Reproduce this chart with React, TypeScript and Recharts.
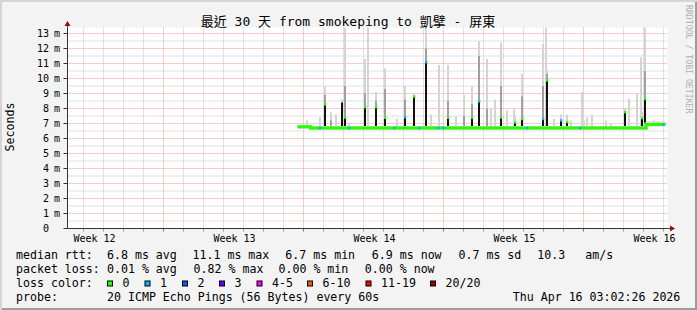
import React from 'react';
import {
  ComposedChart, XAxis, YAxis, CartesianGrid, Bar, Line, Scatter, ReferenceDot, ReferenceLine,
} from 'recharts';

const MONO = "'DejaVu Sans Mono', 'Noto Sans CJK TC', monospace";

// ---------- text ----------
const titleText = '最近 30 天 from smokeping to 凱擘 - 屏東';
const yAxisTitle = 'Seconds';
const sideText = 'RRDTOOL / TOBI OETIKER';

// ---------- axes (days from left edge of the 30-day window, ms) ----------
const yLabelValues = [0, 1, 2, 3, 4, 5, 6, 7, 8, 9, 10, 11, 12, 13];
const yMinorValues = [0.5, 1.5, 2.5, 3.5, 4.5, 5.5, 6.5, 7.5, 8.5, 9.5, 10.5, 11.5, 12.5];
const yMajorValues = [1, 2, 3, 4, 5, 6, 7, 8, 9, 10, 11, 12, 13];
const dayLines = [0.8, 1.8, 2.8, 3.8, 5.8, 6.8, 7.8, 8.8, 9.8, 10.8, 12.8, 13.8, 14.8, 15.8, 16.8, 17.8,
  19.8, 20.8, 21.8, 22.8, 23.8, 24.8, 26.8, 27.8, 28.8, 29.8];
const weekLines = [4.8, 11.8, 18.8, 25.8];
const weekLabelDays = [1.35, 8.35, 15.35, 22.35, 29.35];
const weekLabels = ['Week 12', 'Week 13', 'Week 14', 'Week 15', 'Week 16'];

// ---------- median baseline ----------
const baseDays = [11.5, 12.15, 12.15, 28.93, 28.93, 29.9];
const baseMs = [6.78, 6.78, 6.7, 6.7, 6.93, 6.93];
const raisedSmokeDays = [28.93, 29.9];
const raisedSmokeMs = [7.03, 7.03];

// ---------- events: spikes / smoke / loss-coloured samples ----------
const evDays = [12.6, 12.85, 13.15, 13.7, 13.85, 14.1, 14.85, 15.0, 15.4, 15.87, 16.3, 16.9, 17.3, 17.55,
  17.93, 18.5, 18.55, 18.75, 19.0, 19.8, 20.2, 20.55, 20.98, 21.15, 21.7, 21.98, 22.3, 22.4, 22.73, 22.98,
  23.78, 23.9, 23.98, 24.68, 24.95, 25.15, 25.6, 25.73, 25.8, 25.98, 26.23, 27.15, 27.85, 28.07, 28.48,
  28.65, 28.7, 28.87, 29.75,
  11.95, 13.4, 16.45, 18.15, 19.4, 21.35, 24.3, 26.9, 29.3];
const evPeak = [6.7, 8.27, null, 8.4, 7.4, 6.7, 8.09, null, 8.09, 7.38, 6.7, 7.42, 8.8, 6.7,
  11.09, 6.7, null, 6.7, 7.38, null, 7.38, 8.47, null, null, 7.4, null, null, 7.07, 7.3, 6.7,
  7.3, null, 9.87, 7.2, 7.1, null, 6.7, null, null, null, null, null, 7.76, null, null,
  null, 7.36, 8.64, 6.93,
  null, null, null, null, null, null, null, null, null];
const evLoss = [1, 0, null, null, 0, 1, 0, null, 0, 0, 1, 1, 0, 1,
  1, 1, null, 1, 0, null, 0, 1, null, null, 0, null, null, 0, 0, 1,
  1, null, 0, 1, 0, null, 1, null, null, null, null, null, 0, null, null,
  null, 0, 0, 1,
  null, null, null, null, null, null, null, null, null];
const evSmokeHi = [7.4, 9.47, 7.75, 8.6, 13.4, 7.0, 11.3, 13.4, 9.1, 10.67, null, 9.5, 9.0, null,
  13.4, null, 10.9, null, 10.9, 8.9, 9.5, 12.5, 11.3, 8.0, 12.4, 7.87, 8.0, 7.5, 10.3, null,
  12.3, 13.4, 10.6, 7.6, 7.6, 7.2, null, 9.1, 7.2, 7.4, 7.6, 7.0, 8.0, 8.67, 9.0,
  11.4, 7.8, 13.4, null,
  7.2, 7.6, 7.3, 7.6, 7.5, 8.6, 7.3, 7.2, 7.2];
const evSmokeMid = [null, 8.9, 7.2, null, 9.5, null, 9.0, null, 8.5, 9.3, null, 8.6, null, null,
  12.0, null, null, null, 8.5, 7.5, 8.3, 11.5, 8.0, null, 9.5, null, null, null, 8.8, null,
  9.5, null, 10.3, null, null, null, null, null, null, null, null, null, null, null, null,
  null, null, 10.5, null,
  null, null, null, null, null, null, null, null, null];

// ---------- legend ----------
const lossLabels = ['0', '1', '2', '3', '4-5', '6-10', '11-19', '20/20'];
const lossColors = ['#26ff00', '#00b8ff', '#0059ff', '#5e00ff', '#ff00ff', '#ff5500', '#ff0000', '#a00000'];
const rttValues = ['6.8', '11.1', '6.7', '6.9', '0.7'];
const rttNames = ['avg', 'max', 'min', 'now', 'sd'];
const rttAm = '10.3';
const lossValues = ['0.01', '0.82', '0.00', '0.00'];
const lossNames = ['avg', 'max', 'min', 'now'];
const probeText = '20 ICMP Echo Pings (56 Bytes) every 60s';
const dateText = 'Thu Apr 16 03:02:26 2026';

// ---------- derived tables ----------
const baselineAt = (t: number) => {
  let v = baseMs[0];
  for (let j = 0; j < baseDays.length; j++) if (baseDays[j] <= t) v = baseMs[j];
  return v;
};

const rows = evDays
  .map((t, i) => {
    const base = baselineAt(t);
    const hi = evSmokeHi[i];
    const mid = evSmokeMid[i];
    const pk = evPeak[i];
    return {
      t,
      light: hi != null ? [base - 0.05, hi] : null,
      mid: mid != null ? [base - 0.05, mid] : null,
      med: pk != null && pk > base + 0.05 ? [base, pk] : null,
    };
  })
  .sort((a, b) => a.t - b.t);

const dots = evDays
  .map((t, i) => ({ t, v: evPeak[i] != null ? evPeak[i] : baselineAt(t), loss: evLoss[i] }))
  .filter((d) => d.loss != null)
  .map((d) => ({ t: d.t, v: d.v, c: lossColors[d.loss as number] }));

const baseLine = baseDays.map((t, i) => ({ t, v: baseMs[i] }));
const raisedSmoke = raisedSmokeDays.map((t, i) => ({ t, v: raisedSmokeMs[i] }));

// ---------- renderers ----------
const YTick = (props: any) => {
  const { x, y, payload } = props;
  const v = payload.value;
  return (
    <g>
      <text x={x - 12.5} y={y} dy={3.6} textAnchor="end" fontFamily={MONO} fontSize={10} fill="#000">{v}</text>
      {v !== 0 && (
        <text x={x - 7.5} y={y} dy={3.6} textAnchor="start" fontFamily={MONO} fontSize={10} fill="#000">m</text>
      )}
    </g>
  );
};

const WeekTick = (props: any) => {
  const { x, y, payload } = props;
  const idx = weekLabelDays.indexOf(payload.value);
  return (
    <text x={x} y={y} dy={13.3} textAnchor="middle" fontFamily={MONO} fontSize={10} fill="#000">
      {weekLabels[idx]}
    </text>
  );
};

const makeBarShape = (w: number, fill: string) => (props: any) => {
  const { x, y, width, height } = props;
  if (![x, y, width, height].every((n) => typeof n === 'number' && isFinite(n)) || height === 0) return <g />;
  const cx = x + width / 2;
  const top = Math.min(y, y + height);
  return <rect x={Math.round(cx) - w / 2} y={top} width={w} height={Math.abs(height)} fill={fill} />;
};
const lightShape = makeBarShape(2, '#d4d4d4');
const midShape = makeBarShape(2, '#a0a0a0');
const medShape = makeBarShape(2, '#111111');

const DotShape = (props: any) => {
  const { cx, cy, payload } = props;
  return <rect x={Math.round(cx) - 1} y={cy - 1.2} width={2.4} height={2.4} fill={payload.c} />;
};

const YArrow = (props: any) => {
  const { cx, cy } = props;
  return (
    <g>
      <line x1={cx} y1={cy} x2={cx} y2={cy - 2} stroke="#404040" strokeWidth={1} />
      <polygon points={`${cx},${cy - 6.5} ${cx - 3},${cy - 1.5} ${cx + 3},${cy - 1.5}`} fill="#8b1010" />
    </g>
  );
};

const XArrow = (props: any) => {
  const { cx, cy } = props;
  return (
    <g>
      <line x1={cx} y1={cy} x2={cx + 2.5} y2={cy} stroke="#404040" strokeWidth={1} />
      <polygon points={`${cx + 7.5},${cy} ${cx + 2.5},${cy - 3} ${cx + 2.5},${cy + 3}`} fill="#8b1010" />
    </g>
  );
};

const numAxis = { type: 'number' as const, dataKey: 't', domain: [0, 30] as [number, number], allowDataOverflow: true };
const refAxes = { xAxisId: 'xlab', yAxisId: 'main' };

const txt = { fontFamily: MONO, fontSize: 11.6, fill: '#000' } as const;

export default function App() {
  const rowY = [259, 273, 287.3, 300.6];
  const rttX = [107, 192.5, 285.3, 371.8, 458.5];
  const lossX = [107, 193.6, 278.5, 364.8];
  const boxX = [107.5, 145, 182.5, 219.5, 257, 307.5, 366, 430.5];
  return (
    <div
      style={{
        position: 'absolute', left: 0, top: 0, width: 697, height: 310, overflow: 'hidden',
        background: '#f3f3f3', boxShadow: 'inset 2px 2px 0 #d4d4d4, inset -2px -2px 0 #9c9c9c',
      }}
    >
      <ComposedChart width={697} height={310} data={rows} margin={{ top: 27.5, right: 29.5, bottom: 61.5, left: 0 }}>
        <XAxis xAxisId="xlab" {...numAxis} ticks={weekLabelDays} height={20} tick={<WeekTick />}
          tickLine={false} tickSize={0} tickMargin={0} axisLine={{ stroke: '#333' }} interval={0} />
        <XAxis xAxisId="s1" {...numAxis} orientation="top" height={0} hide />
        <XAxis xAxisId="s2" {...numAxis} orientation="top" height={0} hide />
        <XAxis xAxisId="s3" {...numAxis} orientation="top" height={0} hide />
        <YAxis yAxisId="main" type="number" domain={[0, 13.4]} allowDataOverflow ticks={yLabelValues} width={67.5}
          tick={<YTick />} tickSize={4} tickMargin={2} tickLine={{ stroke: '#333' }} axisLine={{ stroke: '#333' }}
          interval={0} />

        <CartesianGrid xAxisId="xlab" yAxisId="main" fill="#ffffff" horizontal={false} vertical={false} />

        {yMinorValues.map((v) => (
          <ReferenceLine key={'ym' + v} {...refAxes} y={v} stroke="#c4c4c4" strokeDasharray="1 1" zIndex={-90} />
        ))}
        {dayLines.map((v) => (
          <ReferenceLine key={'xm' + v} {...refAxes} x={v} stroke="#c4c4c4" strokeDasharray="1 1" zIndex={-90} />
        ))}
        {yMajorValues.map((v) => (
          <ReferenceLine key={'yM' + v} {...refAxes} y={v} stroke="#eb9a9a" strokeDasharray="1 1" zIndex={-80} />
        ))}
        {weekLines.map((v) => (
          <ReferenceLine key={'xM' + v} {...refAxes} x={v} stroke="#eb9a9a" strokeDasharray="1 1" zIndex={-80} />
        ))}
        {dayLines.map((v) => (
          <ReferenceLine key={'tm' + v} {...refAxes} ifOverflow="visible" stroke="#9a9a9a"
            segment={[{ x: v, y: 0 }, { x: v, y: -0.2 }]} />
        ))}
        {weekLines.map((v) => (
          <ReferenceLine key={'tM' + v} {...refAxes} ifOverflow="visible" stroke="#d05050"
            segment={[{ x: v, y: 0 }, { x: v, y: -0.2 }]} />
        ))}

        <Bar xAxisId="s1" yAxisId="main" dataKey="light" shape={lightShape} isAnimationActive={false} />
        <Bar xAxisId="s2" yAxisId="main" dataKey="mid" shape={midShape} isAnimationActive={false} />
        <Bar xAxisId="s3" yAxisId="main" dataKey="med" shape={medShape} isAnimationActive={false} />

        <Line xAxisId="xlab" yAxisId="main" data={raisedSmoke} dataKey="v" stroke="#d4d4d4" strokeWidth={3}
          dot={false} isAnimationActive={false} />
        <Line xAxisId="xlab" yAxisId="main" data={baseLine} dataKey="v" stroke="#d6d6d6" strokeWidth={4}
          dot={false} isAnimationActive={false} />
        <Line xAxisId="xlab" yAxisId="main" data={baseLine} dataKey="v" stroke="#26ff00" strokeWidth={3}
          dot={false} isAnimationActive={false} />
        <Scatter xAxisId="xlab" yAxisId="main" data={dots} dataKey="v" shape={<DotShape />} isAnimationActive={false} />

        <ReferenceDot {...refAxes} x={0} y={13.4} ifOverflow="visible" shape={<YArrow />} />
        <ReferenceDot {...refAxes} x={30} y={0} ifOverflow="visible" shape={<XArrow />} />
      </ComposedChart>

      <svg width={697} height={310} style={{ position: 'absolute', left: 0, top: 0, pointerEvents: 'none' }}>
        <text x={348} y={26} textAnchor="middle" fontFamily={MONO} fontSize={13} fill="#000">{titleText}</text>
        <text transform="translate(14,127) rotate(-90)" textAnchor="middle" {...txt}>{yAxisTitle}</text>
        <text transform="translate(685.5,5) rotate(90)" textAnchor="start" fontFamily={MONO} fontSize={8.2}
          fill="#b0b0b0">{sideText}</text>

        <text x={16} y={rowY[0]} {...txt}>median rtt:</text>
        {rttValues.map((v, i) => (
          <text key={'r' + i} x={rttX[i]} y={rowY[0]} {...txt}>{`${v} ms ${rttNames[i]}`}</text>
        ))}
        <text x={537.3} y={rowY[0]} {...txt}>{rttAm}</text>
        <text x={585.3} y={rowY[0]} {...txt}>am/s</text>

        <text x={16} y={rowY[1]} {...txt}>packet loss:</text>
        {lossValues.map((v, i) => (
          <text key={'l' + i} x={lossX[i]} y={rowY[1]} {...txt}>{`${v} % ${lossNames[i]}`}</text>
        ))}

        <text x={16} y={rowY[2]} {...txt}>loss color:</text>
        {lossLabels.map((l, i) => (
          <g key={'b' + i}>
            <rect x={boxX[i]} y={rowY[2] - 6.3} width={5} height={5} fill={lossColors[i]} stroke="#000" strokeWidth={1} />
            <text x={boxX[i] + 15} y={rowY[2]} {...txt}>{l}</text>
          </g>
        ))}

        <text x={16} y={rowY[3]} {...txt}>probe:</text>
        <text x={107} y={rowY[3]} {...txt}>{probeText}</text>
        <text x={512.8} y={rowY[3]} {...txt}>{dateText}</text>
      </svg>
    </div>
  );
}
